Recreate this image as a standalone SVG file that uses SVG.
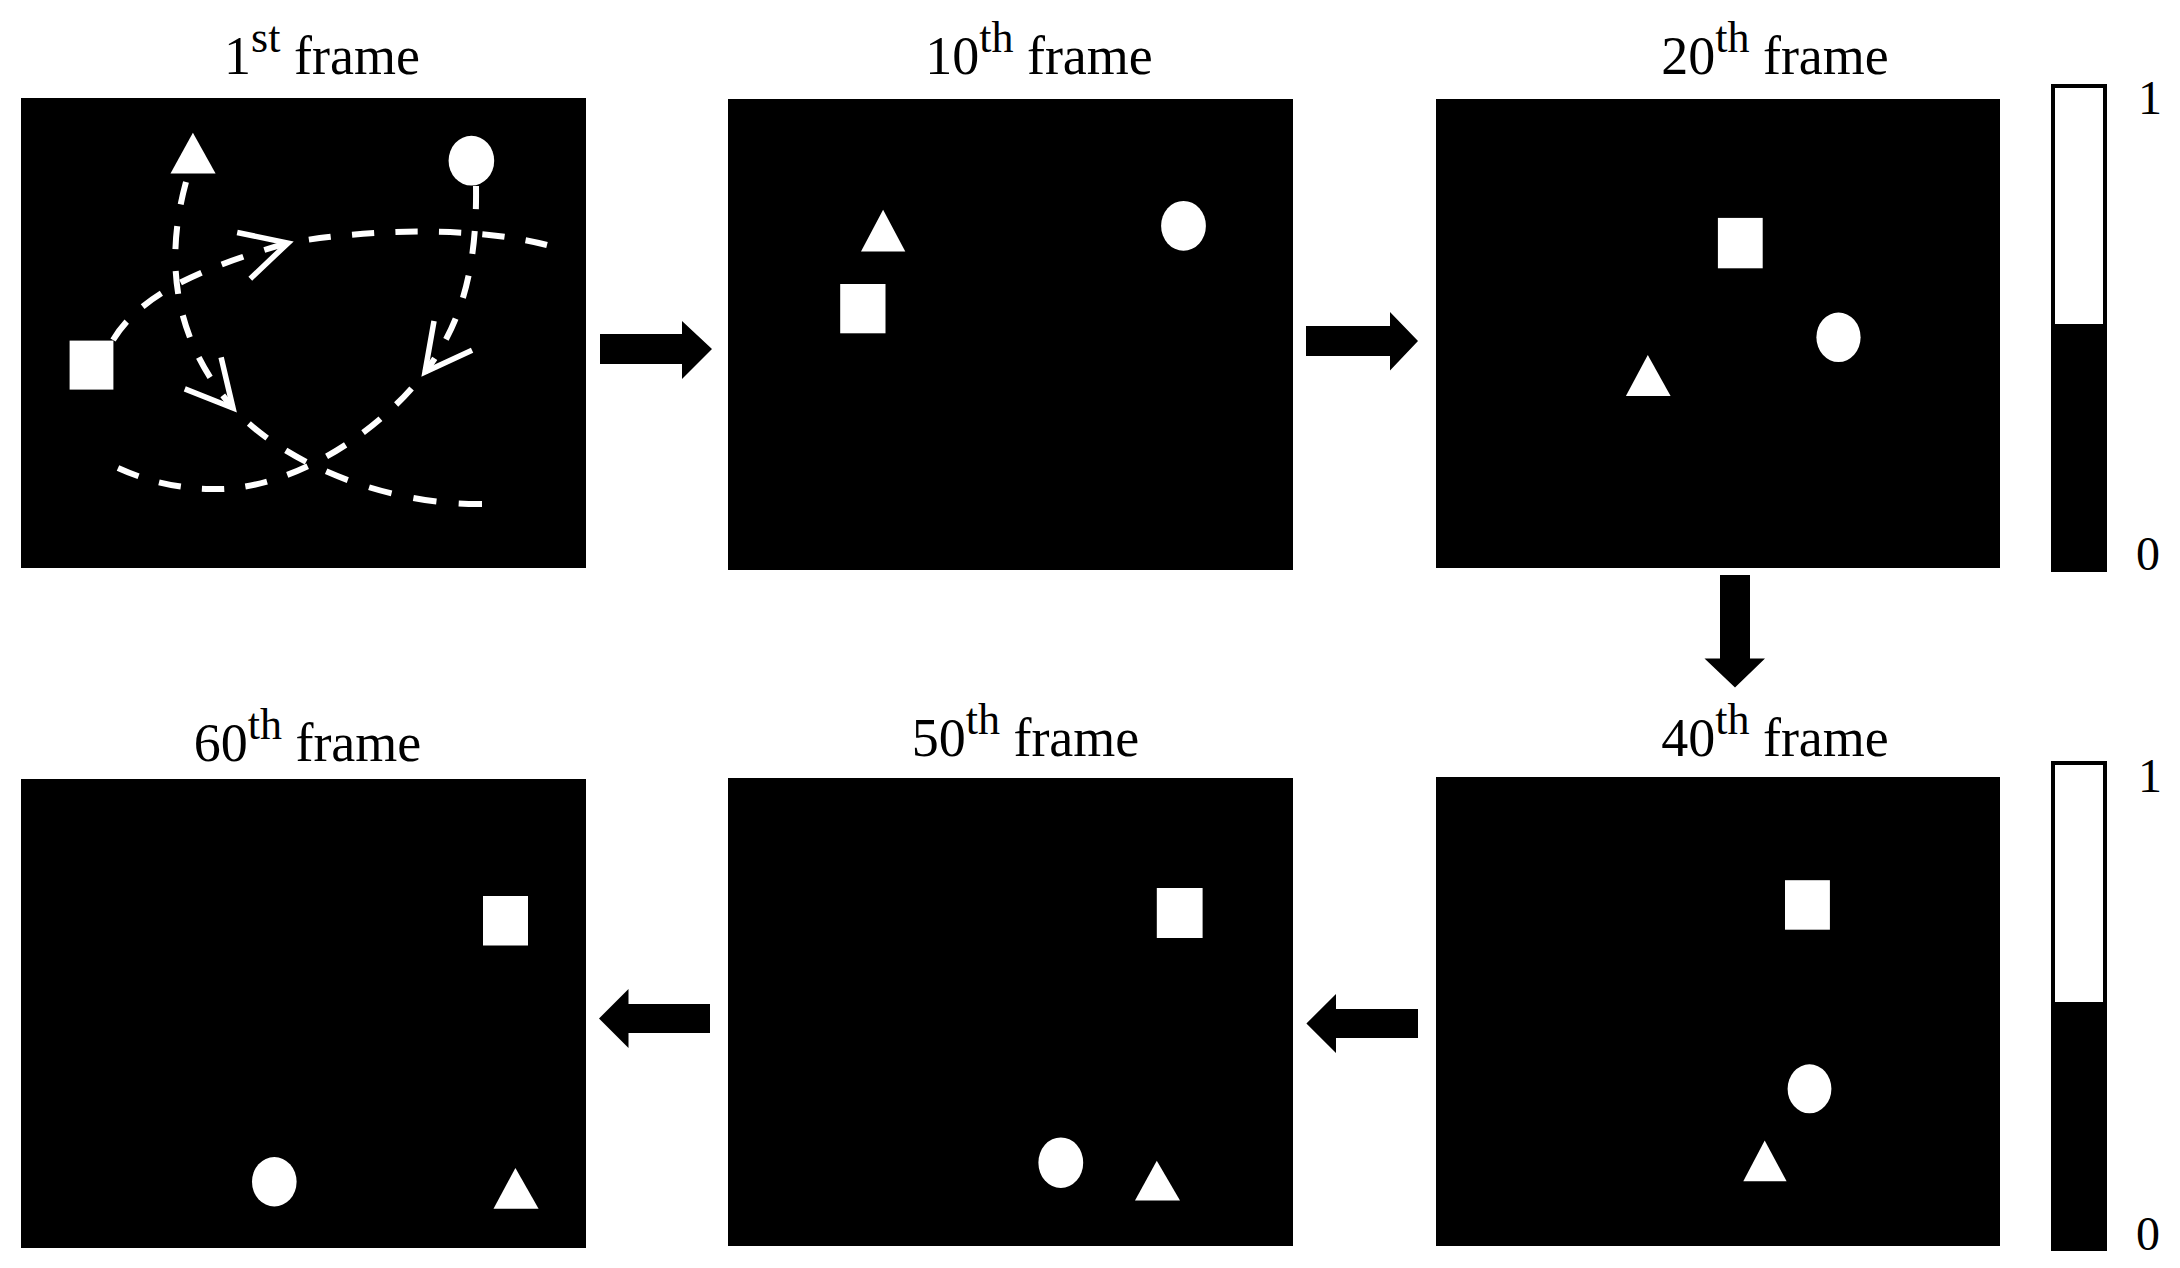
<svg xmlns="http://www.w3.org/2000/svg" width="2180" height="1268" viewBox="0 0 2180 1268">
<style>
.bg{fill:#ffffff}
.frame{fill:#000000}
.obj{fill:#ffffff}
.title{font-family:"Liberation Serif","Times New Roman",serif;font-size:54px;fill:#000000;text-anchor:middle}
.sup{font-size:44px}
.lab{font-family:"Liberation Serif","Times New Roman",serif;font-size:48px;fill:#000000}
.track{fill:none;stroke:#ffffff;stroke-width:6;stroke-dasharray:23 22}
.cont{stroke-dashoffset:23}
.block{fill:#000000}
</style>
<defs>
<marker id="openArrow" markerUnits="userSpaceOnUse" markerWidth="70" markerHeight="70" viewBox="-60 -35 70 70" refX="0" refY="0" orient="auto">
<path d="M-46,-24 L0,0 L-46,24" fill="none" stroke="#ffffff" stroke-width="5.5" stroke-linecap="butt" stroke-linejoin="miter"/>
</marker>
</defs>
<rect class="bg" x="0" y="0" width="2180" height="1268"/>

<g id="frame1">
<text class="title" x="322" y="74">1<tspan class="sup" dy="-22">st</tspan><tspan dy="22"> frame</tspan></text>
<rect class="frame" x="21" y="98" width="565" height="470"/>
<polygon class="obj" points="170.5,173.4 215.6,173.4 192.9,132.8"/>
<ellipse class="obj" cx="471.4" cy="160.7" rx="22.8" ry="24.9"/>
<rect class="obj" x="69.6" y="340.6" width="43.8" height="49"/>
<g id="tracks">
<path class="track" d="M186,182 C166,255 170,335 233,408" marker-end="url(#openArrow)"/>
<path class="track cont" pathLength="270" d="M233,408 C280,460 380,505 482,504"/>
<path class="track" d="M113,340 C140,295 200,268 288,243" marker-end="url(#openArrow)"/>
<path class="track cont" pathLength="270" d="M288,243 C360,230 470,225 547,245"/>
<path class="track" d="M476,186 C477,260 465,320 425,372" marker-end="url(#openArrow)"/>
<path class="track cont" pathLength="360" d="M425,372 C380,432 290,492 210,489 C170,488 140,478 118,468"/>
</g>
</g>

<g id="frame10">
<text class="title" x="1039" y="74">10<tspan class="sup" dy="-22">th</tspan><tspan dy="22"> frame</tspan></text>
<rect class="frame" x="728" y="99" width="565" height="471"/>
<polygon class="obj" points="861,251.4 905.3,251.4 883.1,209.7"/>
<ellipse class="obj" cx="1183.5" cy="225.8" rx="22.4" ry="24.9"/>
<rect class="obj" x="840.2" y="284" width="45.3" height="49.3"/>
</g>

<g id="frame20">
<text class="title" x="1775" y="74">20<tspan class="sup" dy="-22">th</tspan><tspan dy="22"> frame</tspan></text>
<rect class="frame" x="1436" y="99" width="564" height="469"/>
<rect class="obj" x="1717.9" y="217.9" width="44.8" height="50.4"/>
<ellipse class="obj" cx="1838.5" cy="337.3" rx="22.1" ry="24.8"/>
<polygon class="obj" points="1625.9,396 1670.6,396 1647.8,355"/>
</g>

<g id="frame40">
<text class="title" x="1775" y="756">40<tspan class="sup" dy="-22">th</tspan><tspan dy="22"> frame</tspan></text>
<rect class="frame" x="1436" y="777" width="564" height="469"/>
<rect class="obj" x="1785" y="880.2" width="44.9" height="49.5"/>
<ellipse class="obj" cx="1809.5" cy="1088.8" rx="21.9" ry="24.5"/>
<polygon class="obj" points="1743.3,1181.3 1786.6,1181.3 1764.7,1140.4"/>
</g>

<g id="frame50">
<text class="title" x="1025.5" y="756">50<tspan class="sup" dy="-22">th</tspan><tspan dy="22"> frame</tspan></text>
<rect class="frame" x="728" y="778" width="565" height="468"/>
<rect class="obj" x="1156.8" y="888" width="45.8" height="50"/>
<ellipse class="obj" cx="1060.8" cy="1162.7" rx="22.4" ry="25.3"/>
<polygon class="obj" points="1135,1200.4 1180,1200.4 1156.8,1160.7"/>
</g>

<g id="frame60">
<text class="title" x="307.5" y="761">60<tspan class="sup" dy="-22">th</tspan><tspan dy="22"> frame</tspan></text>
<rect class="frame" x="21" y="779" width="565" height="469"/>
<rect class="obj" x="483" y="896" width="45" height="49.5"/>
<ellipse class="obj" cx="274.3" cy="1181.7" rx="22.3" ry="24.7"/>
<polygon class="obj" points="493.5,1208.7 538.6,1208.7 515.4,1168"/>
</g>

<g id="colorbar-top">
<rect x="2051" y="325" width="56" height="247" fill="#000000"/>
<rect x="2053" y="86" width="52" height="240" fill="#ffffff" stroke="#000000" stroke-width="4"/>
<text class="lab" x="2138" y="114">1</text>
<text class="lab" x="2136" y="570">0</text>
</g>

<g id="colorbar-bottom">
<rect x="2051" y="1003" width="56" height="248" fill="#000000"/>
<rect x="2053" y="763" width="52" height="241" fill="#ffffff" stroke="#000000" stroke-width="4"/>
<text class="lab" x="2138" y="792">1</text>
<text class="lab" x="2136" y="1250">0</text>
</g>

<g id="connectors">
<polygon class="block" points="600,334 682,334 682,321 712,349 682,379 682,364 600,364"/>
<polygon class="block" points="1306,326 1390,326 1390,312 1418,341 1390,370.5 1390,356 1306,356"/>
<polygon class="block" points="1720,575 1750,575 1750,658.5 1765,658.5 1735,687.5 1704.5,658.5 1720,658.5"/>
<polygon class="block" points="1418,1009 1336,1009 1336,994 1306.4,1023.5 1336,1053 1336,1038 1418,1038"/>
<polygon class="block" points="710,1004 628.5,1004 628.5,989 599,1018.5 628.5,1048 628.5,1033 710,1033"/>
</g>
</svg>
